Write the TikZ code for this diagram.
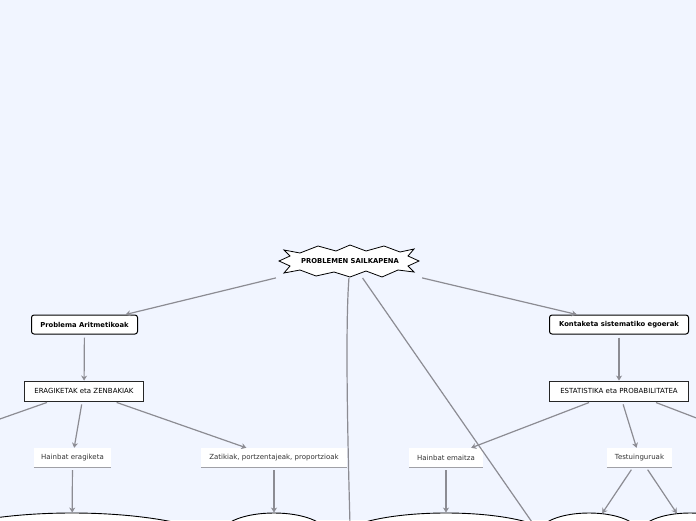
\documentclass[tikz,border=0pt]{standalone}
\usepackage{fontspec}
\setmainfont{DejaVu Sans}
\usetikzlibrary{arrows.meta,shapes.geometric}
\definecolor{bg}{HTML}{F1F5FF}
\definecolor{edgec}{HTML}{8C8C93}
\definecolor{ulc}{HTML}{A0A0A6}
\begin{document}
\begin{tikzpicture}[x=1pt,y=-1pt,
  every node/.style={font=\fontsize{7}{8}\selectfont, inner sep=0pt},
  topic/.style={draw=black, line width=1pt, rounded corners=2.5pt, fill=white,
    font=\fontsize{6.8}{8}\selectfont\bfseries},
  subtopic/.style={draw=black!85, line width=0.9pt, fill=white},
  lbl/.style={fill=white, text=black!80},
  uline/.style={draw=ulc, line width=1.2pt},
  blob/.style={ellipse, draw=black, line width=0.9pt, fill=white},
  conn/.style={draw=edgec, line width=1.2pt, shorten <=3pt},
  arr/.style={conn, -{Stealth[length=5pt,width=6pt]}}
]
\useasboundingbox (0,0) rectangle (696,520);
\fill[bg] (0,0) rectangle (696,520);
\clip (0,0) rectangle (696,520);

% root
\node[minimum width=140, minimum height=32] (root) at (349,261) {};
\draw[fill=white, line width=0.8pt, line join=miter]
  (284,250) -- (300,253) -- (318,246) -- (336,251) -- (350,245) -- (366,251)
  -- (384,246) -- (400,252) -- (414,249) -- (408,256) -- (419,261) -- (408,266)
  -- (414,272) -- (398,270) -- (382,277) -- (366,271) -- (350,277) -- (334,272)
  -- (316,276) -- (300,270) -- (284,273) -- (290,266) -- (279,261) -- (290,256) -- cycle;
\node[font=\fontsize{6.8}{8}\selectfont\bfseries] (roottxt) at (350,261) {PROBLEMEN SAILKAPENA};

% level 1
\node[topic, minimum width=106, minimum height=19] (pa) at (84.5,324.5) {Problema Aritmetikoak};
\node[topic, minimum width=139, minimum height=19] (ks) at (619,324.5) {Kontaketa sistematiko egoerak};

% level 2
\node[subtopic, minimum width=119, minimum height=20] (ez) at (84,391) {ERAGIKETAK eta ZENBAKIAK};
\node[subtopic, minimum width=139, minimum height=20] (ep) at (619,391) {ESTATISTIKA eta PROBABILITATEA};

% level 3
\node[lbl, minimum width=77, minimum height=19] (he) at (72.5,457.5) {Hainbat eragiketa};
\node[lbl, minimum width=146, minimum height=19] (zp) at (274,457.5) {Zatikiak, portzentajeak, proportzioak};
\node[lbl, minimum width=74, minimum height=19] (hm) at (446,457.5) {Hainbat emaitza};
\node[lbl, minimum width=65, minimum height=19] (tt) at (639.5,457.5) {Testuinguruak};
\foreach \n in {he,zp,hm,tt}
  \draw[uline] (\n.south west) -- (\n.south east);

% level 4 (cut by the page edge)
\node[blob, minimum width=320, minimum height=80] (e1) at (72,553) {};
\node[blob, minimum width=104, minimum height=40] (e2) at (274,533) {};
\node[blob, minimum width=210, minimum height=50] (e3) at (446,538) {};
\node[blob, minimum width=100, minimum height=40] (e4) at (589,533) {};
\node[blob, minimum width=100, minimum height=40] (e5) at (690,533) {};

% free ends
\coordinate (offl) at (-3,420);
\coordinate (offr) at (699,419);
\coordinate (offd) at (350,525);
\coordinate (offdiag) at (534,525);

% connectors
\draw[arr] (root.south west) -- (pa);
\draw[arr] (root.south east) -- (ks);
\draw[conn, shorten <=1pt] (root.south) .. controls (345,330) and (348,450) .. (offd);
\draw[conn, shorten <=1pt] ([xshift=13pt]root.south) -- (offdiag);

\draw[arr] (pa) -- (ez);
\draw[arr] (ks) -- (ep);

\draw[conn] (ez.197.6) -- (offl);
\draw[arr] (ez) -- (he);
\draw[arr] (ez) -- (zp);
\draw[arr] (ep) -- (hm);
\draw[arr] (ep) -- (tt);
\draw[conn] (ep.-17.6) -- (offr);

\draw[arr] (he) -- (e1);
\draw[arr] (zp) -- (e2);
\draw[arr] (hm) -- (e3);
\draw[arr] (tt) -- (e4);
\draw[arr] (tt) -- (e5);
\end{tikzpicture}
\end{document}
